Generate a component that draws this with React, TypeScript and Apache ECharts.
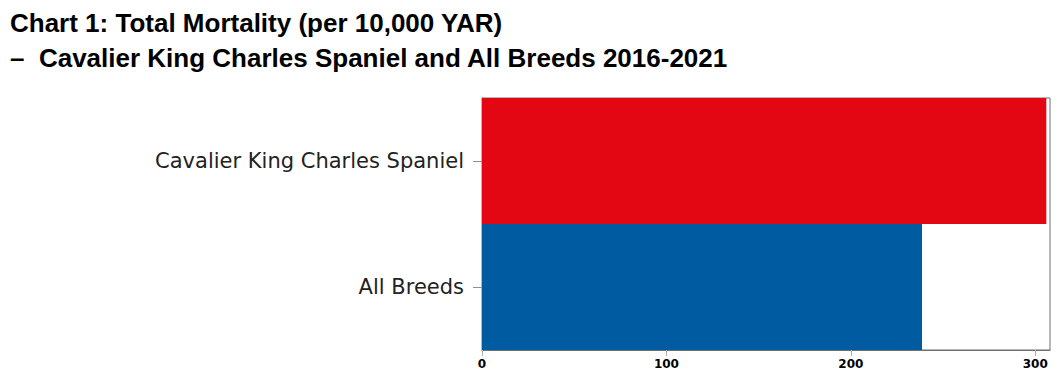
import React, { useEffect, useRef } from "react";
import * as echarts from "echarts";

const categories = ["Cavalier King Charles Spaniel", "All Breeds"];
const values = [306, 238.6];
const barColors = ["#E30613", "#005BA0"];
const xTicks = [0, 100, 200, 300];

export default function App() {
  const ref = useRef<HTMLDivElement>(null);
  useEffect(() => {
    if (!ref.current) return;
    const chart = echarts.init(ref.current, null, { renderer: "svg" });
    chart.setOption({
      animation: false,
      title: {
        text: "Chart 1: Total Mortality (per 10,000 YAR)\n–  Cavalier King Charles Spaniel and All Breeds 2016-2021",
        left: 5,
        top: 0,
        textStyle: {
          fontFamily: "Liberation Sans, Arial, sans-serif",
          fontWeight: "bold",
          fontSize: 26,
          lineHeight: 35,
          color: "#000",
        },
      },
      grid: {
        left: 482,
        right: 10,
        top: 98,
        bottom: 32,
        show: true,
        borderColor: "#707070",
        borderWidth: 1,
        backgroundColor: "transparent",
      },
      xAxis: {
        type: "value",
        min: 0,
        max: 308,
        splitLine: { show: false },
        axisLine: { show: true, lineStyle: { color: "#707070" } },
        axisTick: { show: true, customValues: xTicks, length: 6, lineStyle: { color: "#b0b0b0" } },
        axisLabel: {
          customValues: xTicks,
          margin: 8,
          fontFamily: "DejaVu Sans, sans-serif",
          fontWeight: "bold",
          fontSize: 12,
          color: "#000",
        },
      },
      yAxis: {
        type: "category",
        data: categories,
        inverse: true,
        axisLine: { show: true, lineStyle: { color: "#707070" } },
        axisTick: { show: true, alignWithLabel: true, length: 9, lineStyle: { color: "#909090" } },
        axisLabel: {
          margin: 18,
          fontFamily: "DejaVu Sans, sans-serif",
          fontSize: 21,
          color: "#222",
        },
      },
      series: [
        {
          type: "bar",
          barCategoryGap: "0%",
          data: values.map((v, i) => ({ value: v, itemStyle: { color: barColors[i] } })),
        },
      ],
    });
    return () => chart.dispose();
  }, []);
  return <div ref={ref} style={{ width: 1060, height: 382, position: "absolute", left: 0, top: 0 }} />;
}
